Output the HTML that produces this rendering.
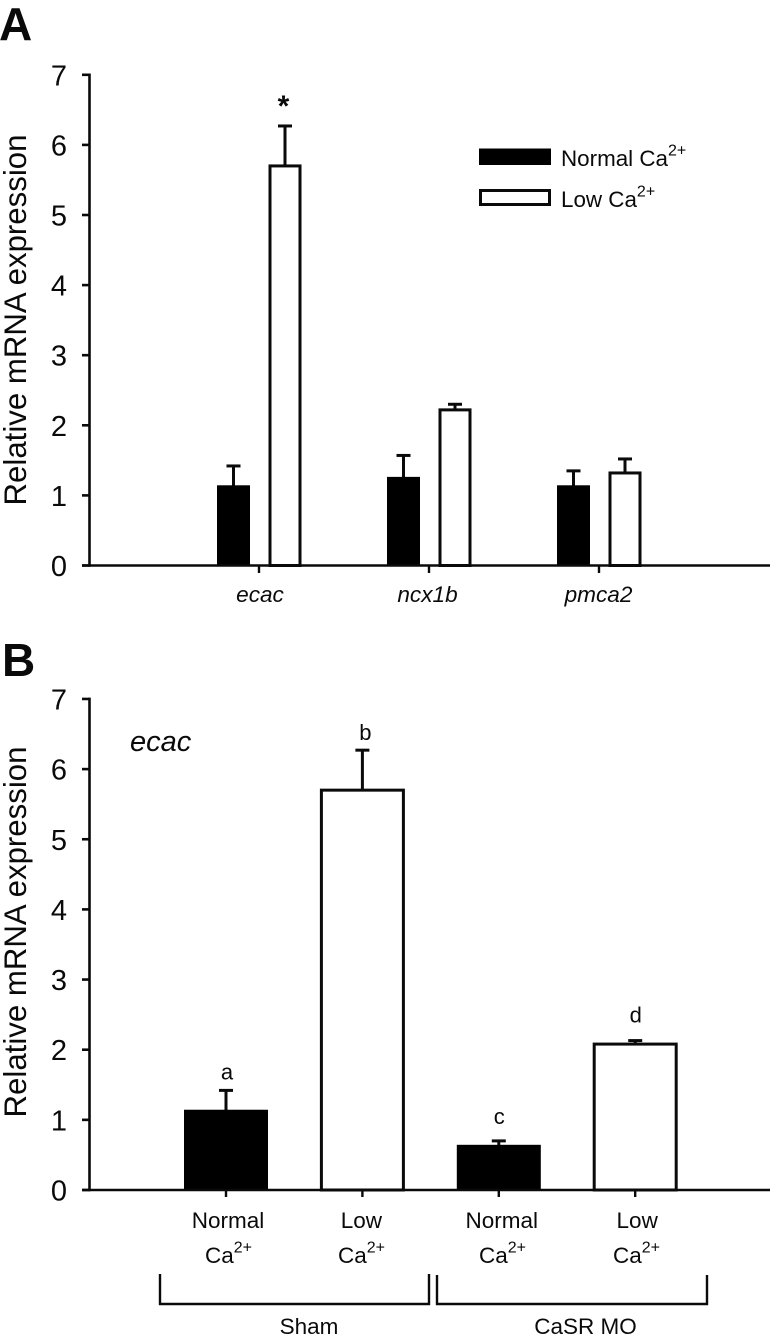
<!DOCTYPE html>
<html lang="en">
<head>
<meta charset="utf-8">
<title>Relative mRNA expression</title>
<style>
html,body{margin:0;padding:0;background:#fff;}
svg{display:block;font-family:"Liberation Sans",Arial,sans-serif;fill:#0a0a0a;}
</style>
</head>
<body>
<svg id="figure" xmlns="http://www.w3.org/2000/svg" width="773" height="1342" viewBox="0 0 773 1342"></svg>
<script>
const yTickLabels = [0, 1, 2, 3, 4, 5, 6, 7];
const panelACategories = ['ecac', 'ncx1b', 'pmca2'];
const panelANormal = [1.13, 1.25, 1.13];
const panelANormalErrTop = [1.42, 1.57, 1.35];
const panelALow = [5.70, 2.22, 1.32];
const panelALowErrTop = [6.27, 2.30, 1.52];
const panelBNames = ['sham-normal', 'sham-low', 'casr-normal', 'casr-low'];
const panelBFirstLine = ['Normal', 'Low', 'Normal', 'Low'];
const panelBValues = [1.13, 5.70, 0.63, 2.08];
const panelBErrTop = [1.42, 6.27, 0.70, 2.13];
const panelBLetters = ['a', 'b', 'c', 'd'];
const panelBIsLow = [false, true, false, true];

const svg = document.getElementById('figure');
const NS = 'http://www.w3.org/2000/svg';
const INK = '#0a0a0a';
const AXIS_X = 89.5;
const yA = v => 565.5 - v * 70.1;
const yB = v => 1190 - v * 70.15;
const xA = i => 259 + i * 170;
const xB = i => 226 + i * 136.4;
const LAYOUT = {
  aLabelNudge: [1, -1.5, -0.5],
  bLine1Nudge: [2, -1, 3, 2],
  bLine2Nudge: [26, 22.6, 27.2, 24.8],
  bLetterNudge: [1, 3, 0.5, 0.5],
  bLetterGap: [11, 10, 17, 18]
};

function make(tag, attrs, parent) {
  const el = document.createElementNS(NS, tag);
  for (const k in attrs) el.setAttribute(k, attrs[k]);
  (parent || svg).appendChild(el);
  return el;
}
function line(x1, y1, x2, y2, w, name) {
  const el = make('line', {x1: x1, y1: y1, x2: x2, y2: y2, stroke: INK, 'stroke-width': w});
  
  
  return el;
}
function text(x, y, str, size, name, extra) {
  const el = make('text', Object.assign({x: x, y: y, 'font-size': size, fill: INK}, extra || {}));
  el.textContent = str;
  
  
  return el;
}
function caText(x, y, prefix, size, name, anchor) {
  const el = make('text', {x: x, y: y, 'font-size': size, fill: INK, 'text-anchor': anchor});
  
  
  const base = make('tspan', {}, el);
  base.textContent = prefix + 'Ca';
  const sup = make('tspan', {dy: -10.5, 'font-size': 16}, el);
  sup.textContent = '2+';
  return el;
}
function bar(cx, w, value, errTop, yFn, low, capW, name) {
  const y0 = yFn(0), yv = yFn(value), ye = yFn(errTop);
  const err = line(cx, yv, cx, ye, 3, name + '-error');
  err.setAttribute('data-value', errTop);
  line(cx - capW / 2, ye, cx + capW / 2, ye, 3, name + '-error-cap');
  const r = make('rect', low
    ? {x: cx - w / 2, y: yv, width: w, height: y0 - yv, fill: '#fff', stroke: INK, 'stroke-width': 3}
    : {x: cx - w / 2 - 1, y: yv - 1, width: w + 2, height: y0 - yv + 1, fill: '#000'});
  
  
}
function yAxis(yFn, prefix) {
  line(AXIS_X, yFn(7) - 1.3, AXIS_X, yFn(0) + 1.3, 2.6, prefix + '-y-axis');
  yTickLabels.forEach(t => {
    line(82, yFn(t), AXIS_X, yFn(t), 2.6, prefix + '-y-tick-' + t);
    text(67, yFn(t) + 10.5, String(t), 29, prefix + '-y-tick-label-' + t, {'text-anchor': 'end'});
  });
}

/* Panel A */
text(-1, 40, 'A', 46, 'panel-a-label', {'font-weight': 'bold'});
text(26, 320, 'Relative mRNA expression', 31.2, 'panel-a-y-axis-title', {'text-anchor': 'middle', transform: 'rotate(-90 26 320)'});
panelACategories.forEach((c, i) => {
  const x = xA(i);
  bar(x - 25.5, 31, panelANormal[i], panelANormalErrTop[i], yA, false, 14, 'bar-' + c + '-normal');
  bar(x + 26, 30, panelALow[i], panelALowErrTop[i], yA, true, 14, 'bar-' + c + '-low');
  line(x, yA(0), x, 573, 2.4, 'x-tick-' + c);
  text(x + LAYOUT.aLabelNudge[i], 602, c, 22.6, 'x-label-' + c, {'text-anchor': 'middle', 'font-style': 'italic'});
});
yAxis(yA, 'panel-a');
line(82, yA(0), 770, yA(0), 2.6, 'panel-a-x-axis');
text(283.5, 116, '*', 30, 'significance-star', {'text-anchor': 'middle', 'font-weight': 'bold'});

const swatchNormal = make('rect', {x: 479, y: 148.5, width: 72, height: 16.5, fill: '#000'});


caText(561, 166, 'Normal ', 22.4, 'legend-label-normal', 'start');
const swatchLow = make('rect', {x: 480.5, y: 190.5, width: 69, height: 14, fill: '#fff', stroke: INK, 'stroke-width': 3});


caText(561, 207, 'Low ', 22.4, 'legend-label-low', 'start');

/* Panel B */
text(2, 676, 'B', 46, 'panel-b-label', {'font-weight': 'bold'});
text(26, 932, 'Relative mRNA expression', 31.2, 'panel-b-y-axis-title', {'text-anchor': 'middle', transform: 'rotate(-90 26 932)'});
text(130, 751, 'ecac', 29, 'panel-b-gene-label', {'font-style': 'italic'});
panelBNames.forEach((n, i) => {
  const x = xB(i);
  bar(x, 82, panelBValues[i], panelBErrTop[i], yB, panelBIsLow[i], 14, 'bar-' + n);
  line(x, yB(0), x, 1197, 2.4, 'x-tick-' + n);
  text(x + LAYOUT.bLine1Nudge[i], 1228, panelBFirstLine[i], 22.5, 'x-label-' + n, {'text-anchor': 'middle'});
  caText(x + LAYOUT.bLine2Nudge[i], 1263, '', 22.5, 'x-label-ca-' + n, 'end');
  text(x + LAYOUT.bLetterNudge[i], yB(panelBErrTop[i]) - LAYOUT.bLetterGap[i], panelBLetters[i], 22, 'significance-letter-' + panelBLetters[i], {'text-anchor': 'middle'});
});
yAxis(yB, 'panel-b');
line(82, yB(0), 770, yB(0), 2.6, 'panel-b-x-axis');

const shamBracket = make('path', {d: 'M160 1274V1304H429V1274', fill: 'none', stroke: INK, 'stroke-width': 2.4});


const casrBracket = make('path', {d: 'M437 1275V1304H707V1275', fill: 'none', stroke: INK, 'stroke-width': 2.4});


text(309, 1334, 'Sham', 22.5, 'sham-group-label', {'text-anchor': 'middle'});
text(585.5, 1334, 'CaSR MO', 22.5, 'casr-mo-group-label', {'text-anchor': 'middle'});
</script>
</body>
</html>
